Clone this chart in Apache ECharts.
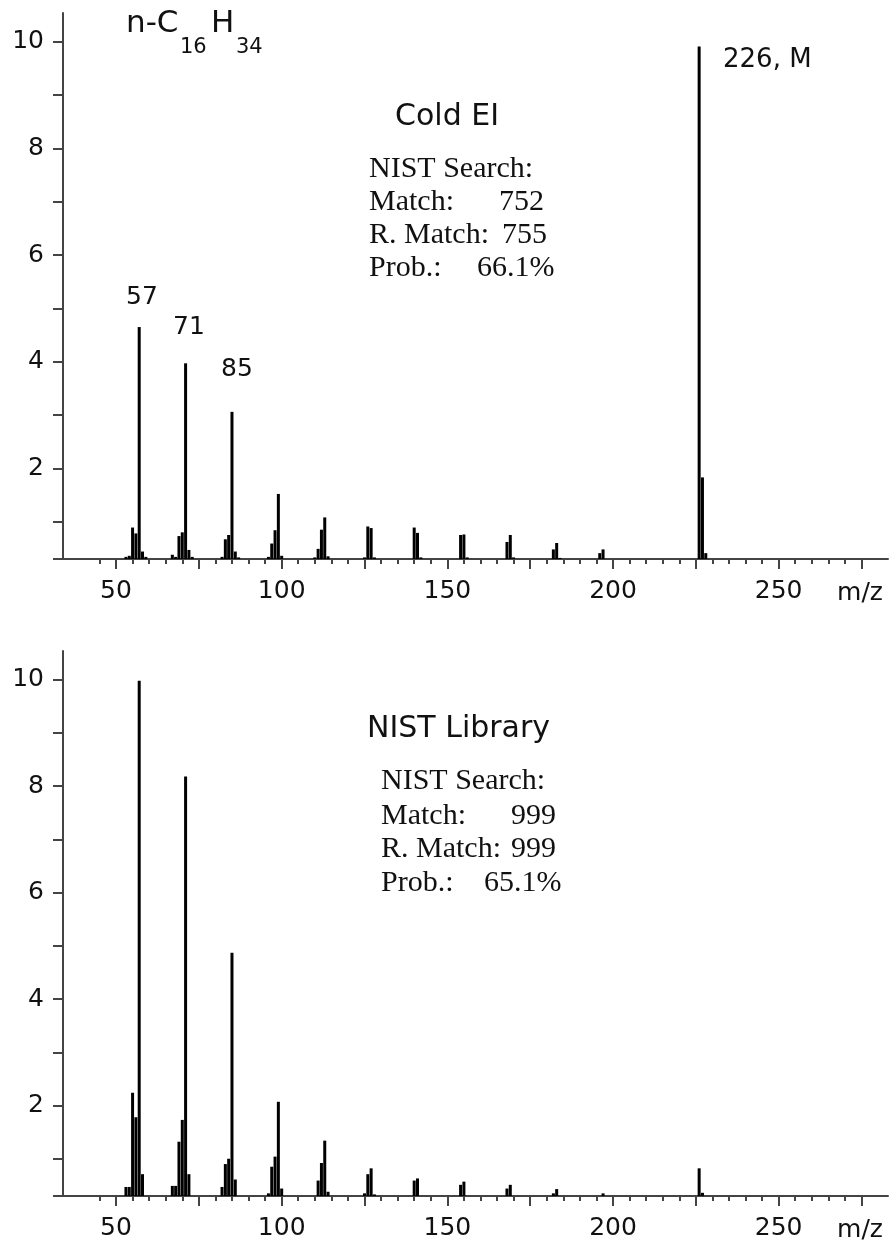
<!DOCTYPE html>
<html>
<head>
<meta charset="utf-8">
<script src="https://cdn.jsdelivr.net/npm/echarts@6/dist/echarts.min.js"></script>
<style>
html,body{margin:0;padding:0;background:#fff;}
#chart{width:890px;height:1245px;}
</style>
</head>
<body>
<div id="chart"></div>
<script>
// ---- Data ----
const coldEiMz = [53,54,55,56,57,58,59, 67,68,69,70,71,72,73, 82,83,84,85,86,87, 96,97,98,99,100, 110,111,112,113,114, 125,126,127,128, 140,141,142, 154,155,156, 168,169,170, 182,183,184, 196,197, 226,227,228];
const coldEiIntensity = [0.34,0.36,0.89,0.78,4.65,0.44,0.34, 0.38,0.34,0.73,0.80,3.97,0.47,0.34, 0.34,0.67,0.75,3.06,0.44,0.33, 0.34,0.59,0.84,1.52,0.36, 0.33,0.49,0.85,1.08,0.35, 0.33,0.91,0.88,0.33, 0.89,0.79,0.33, 0.75,0.76,0.33, 0.62,0.75,0.33, 0.48,0.60,0.32, 0.41,0.48, 9.91,1.83,0.41];

const nistMz = [53,54,55,56,57,58, 67,68,69,70,71,72, 82,83,84,85,86, 96,97,98,99,100, 111,112,113,114, 125,126,127,128, 140,141, 154,155, 168,169, 182,183, 197, 226,227];
const nistIntensity = [0.47,0.47,2.24,1.78,9.98,0.71, 0.49,0.49,1.32,1.73,8.18,0.71, 0.47,0.90,1.00,4.87,0.61, 0.35,0.85,1.04,2.07,0.44, 0.59,0.92,1.34,0.38, 0.35,0.71,0.82,0.33, 0.59,0.63, 0.51,0.57, 0.44,0.51, 0.35,0.43, 0.35, 0.82,0.36];

const mzMajorTicks = [50,75,100,125,150,175,200,225,250,275];
const mzMinorTicks = [45,55,60,65,70,80,85,90,95,105,110,115,120,130,135,140,145,155,160,165,170,180,185,190,195,205,210,215,220,230,235,240,245,255,260,265,270];
const mzTickLabels = [50,100,150,200,250];
const intensityTicks = [0.3,1,2,3,4,5,6,7,8,9,10];
const intensityTickLabels = [2,4,6,8,10];

// ---- Chart ----
const SANS = 'DejaVu Sans';
const SERIF = 'Liberation Serif';
const AXIS_COLOR = '#444';
const TEXT_COLOR = '#111';
const X_MIN = 34, X_MAX = 283, Y_MIN = 0.3, Y_MAX = 10.54;

function pairs(xs, ys) { return xs.map((x, i) => [x, ys[i]]); }

function mainX(gridIndex) {
  return {
    gridIndex, type: 'value', min: X_MIN, max: X_MAX, position: 'bottom',
    axisLine: { show: true, onZero: false, lineStyle: { color: AXIS_COLOR, width: 2 } },
    axisTick: { show: true, customValues: mzMajorTicks, length: 10, lineStyle: { color: AXIS_COLOR, width: 2 } },
    axisLabel: { customValues: mzTickLabels, fontFamily: SANS, fontSize: 25, color: TEXT_COLOR, margin: 20 },
    splitLine: { show: false }
  };
}
function minorX(gridIndex) {
  return {
    gridIndex, type: 'value', min: X_MIN, max: X_MAX, position: 'bottom', offset: 0,
    axisLine: { show: false, onZero: false },
    axisTick: { show: true, customValues: mzMinorTicks, length: 5, lineStyle: { color: AXIS_COLOR, width: 2 } },
    axisLabel: { show: false },
    splitLine: { show: false }
  };
}
function yAx(gridIndex) {
  return {
    gridIndex, type: 'value', min: Y_MIN, max: Y_MAX,
    axisLine: { show: true, onZero: false, lineStyle: { color: AXIS_COLOR, width: 2 } },
    axisTick: { show: true, customValues: intensityTicks, length: 10, lineStyle: { color: AXIS_COLOR, width: 2 } },
    axisLabel: { customValues: intensityTickLabels, fontFamily: SANS, fontSize: 25, color: TEXT_COLOR, margin: 19 },
    splitLine: { show: false }
  };
}
function txt(text, x, y, size, family, align) {
  return {
    type: 'text', x, y, silent: true,
    style: { text, fontFamily: family || SANS, fontSize: size, fill: TEXT_COLOR,
             textAlign: align || 'left', textVerticalAlign: 'middle' }
  };
}

const chart = echarts.init(document.getElementById('chart'), null, { renderer: 'canvas' });
chart.setOption({
  animation: false,
  backgroundColor: '#fff',
  grid: [
    { left: 63, top: 13, width: 825, height: 546 },
    { left: 63, top: 651, width: 825, height: 545 }
  ],
  xAxis: [mainX(0), minorX(0), mainX(1), minorX(1)],
  yAxis: [yAx(0), yAx(1)],
  series: [
    { name: 'Cold EI', type: 'bar', xAxisIndex: 0, yAxisIndex: 0, barWidth: 3, clip: true, silent: true,
      itemStyle: { color: '#000' }, data: pairs(coldEiMz, coldEiIntensity) },
    { name: 'NIST Library', type: 'bar', xAxisIndex: 2, yAxisIndex: 1, barWidth: 3, clip: true, silent: true,
      itemStyle: { color: '#000' }, data: pairs(nistMz, nistIntensity) }
  ],
  graphic: [
    // top panel
    txt('n-C', 126, 24, 31),
    txt('16', 180, 48, 21),
    txt('H', 211, 24, 31),
    txt('34', 236, 48, 21),
    txt('Cold EI', 395, 117, 30),
    txt('NIST Search:', 369, 169, 30, SERIF),
    txt('Match:', 369, 202, 30, SERIF),
    txt('752', 499, 202, 30, SERIF),
    txt('R. Match:', 369, 235, 30, SERIF),
    txt('755', 502, 235, 30, SERIF),
    txt('Prob.:', 369, 268, 30, SERIF),
    txt('66.1%', 477, 268, 30, SERIF),
    txt('57', 142, 297, 25, SANS, 'center'),
    txt('71', 189, 327, 25, SANS, 'center'),
    txt('85', 237, 369, 25, SANS, 'center'),
    txt('226, M', 723, 60, 26),
    txt('m/z', 860, 593, 25, SANS, 'center'),
    // bottom panel
    txt('NIST Library', 367, 729, 30),
    txt('NIST Search:', 381, 781, 30, SERIF),
    txt('Match:', 381, 816, 30, SERIF),
    txt('999', 511, 816, 30, SERIF),
    txt('R. Match:', 381, 849, 30, SERIF),
    txt('999', 511, 849, 30, SERIF),
    txt('Prob.:', 381, 883, 30, SERIF),
    txt('65.1%', 484, 883, 30, SERIF),
    txt('m/z', 860, 1230, 25, SANS, 'center')
  ]
});
</script>
</body>
</html>
